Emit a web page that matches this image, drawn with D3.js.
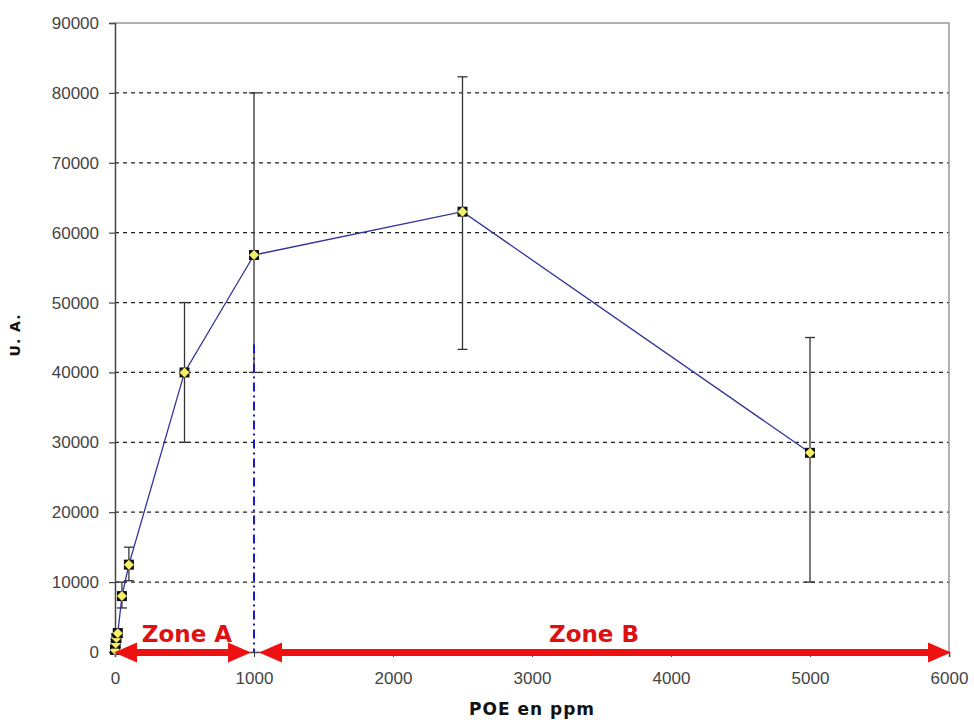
<!DOCTYPE html>
<html><head><meta charset="utf-8">
<script src="https://cdn.jsdelivr.net/npm/d3@7"></script>
<style>body{margin:0;background:#fff;}svg{display:block;font-family:"DejaVu Sans",Verdana,sans-serif;}</style>
</head><body>
<svg id="c" width="974" height="720"></svg>
<script>
const poe = [0, 5, 10, 20, 50, 100, 500, 1000, 2500, 5000];
const ua = [300, 1200, 2000, 2700, 8000, 12500, 40000, 56800, 63000, 28500];
const errLow = [0, 600, 1400, 2100, 6300, 10200, 30000, 40000, 43300, 10000];
const errHigh = [600, 1800, 2600, 3300, 10000, 15000, 50000, 80000, 82300, 45000];
const yTicks = [0, 10000, 20000, 30000, 40000, 50000, 60000, 70000, 80000, 90000];
const xTicks = [0, 1000, 2000, 3000, 4000, 5000, 6000];
const zones = [{label: "Zone A", from: 0, to: 1000}, {label: "Zone B", from: 1000, to: 6000}];
const threshold = {x: 1000, top: 44000};

const svg = d3.select("#c");
const x = d3.scaleLinear().domain([0, 6000]).range([115, 949]);
const y = d3.scaleLinear().domain([0, 90000]).range([652, 23]);

// grid
svg.append("g").selectAll("line").data(yTicks.filter(v => v > 0 && v < 90000)).join("line")
  .attr("x1", x(0)).attr("x2", x(6000)).attr("y1", d => y(d)).attr("y2", d => y(d))
  .attr("stroke", "#222").attr("stroke-width", 1.2).attr("stroke-dasharray", "4,4");
// top and right border
svg.append("path").attr("d", `M${x(0)},${y(90000)}H${x(6000)}V${y(0)}`)
  .attr("fill", "none").attr("stroke", "#999").attr("stroke-width", 1.5);

// y axis
const ya = svg.append("g").attr("transform", `translate(${x(0)},0)`)
  .call(d3.axisLeft(y).tickValues(yTicks).tickSize(6).tickPadding(10).tickFormat(d3.format("d")));
ya.select(".domain").attr("stroke", "#444").attr("stroke-width", 1.5);
ya.selectAll(".tick line").attr("stroke", "#444").attr("stroke-width", 1.2);
ya.selectAll("text").attr("font-size", 17).attr("fill", "#444");

// x axis
const xa = svg.append("g").attr("transform", `translate(0,${y(0)})`)
  .call(d3.axisBottom(x).tickValues(xTicks).tickSize(5).tickPadding(15).tickFormat(d3.format("d")));
xa.select(".domain").attr("stroke", "#444").attr("stroke-width", 1.5);
xa.selectAll(".tick line").attr("stroke", "#444");
xa.selectAll("text").attr("font-size", 17).attr("fill", "#444");

// error bars
const eb = svg.append("g").attr("stroke", "#333").attr("stroke-width", 1.3);
poe.forEach((p, i) => {
  eb.append("line").attr("x1", x(p)).attr("x2", x(p)).attr("y1", y(errLow[i])).attr("y2", y(errHigh[i]));
  [errLow[i], errHigh[i]].forEach(v => eb.append("line")
    .attr("x1", x(p) - 5).attr("x2", x(p) + 5).attr("y1", y(v)).attr("y2", y(v)));
});

// threshold dash-dot line
svg.append("line").attr("x1", x(threshold.x)).attr("x2", x(threshold.x))
  .attr("y1", y(threshold.top)).attr("y2", y(0))
  .attr("stroke", "#1a1acc").attr("stroke-width", 2).attr("stroke-dasharray", "9,4,2,4");

// line
const pts = poe.map((p, i) => [p, ua[i]]);
svg.append("path").datum(pts)
  .attr("d", d3.line().x(d => x(d[0])).y(d => y(d[1])))
  .attr("fill", "none").attr("stroke", "#33339a").attr("stroke-width", 1.3);

// markers
const mk = svg.append("g").selectAll("g").data(pts).join("g")
  .attr("transform", d => `translate(${x(d[0])},${y(d[1])})`);
mk.append("rect").attr("x", -5).attr("y", -5).attr("width", 10).attr("height", 10).attr("fill", "#111");
mk.append("path").attr("d", "M0,-5L5,0L0,5L-5,0Z").attr("fill", "#f2ee6a");

// zone arrows
const zg = svg.append("g");
zones.forEach((z, i) => {
  const x1 = x(z.from) + (i === 0 ? -1 : 5), x2 = x(z.to) - (i === 0 ? 3 : -2);
  const yy = y(0) + 0.5, L = 23, H = 10, t = 3.5;
  zg.append("path").attr("d",
    `M${x1},${yy}L${x1 + L},${yy - H}L${x1 + L},${yy - t}L${x2 - L},${yy - t}L${x2 - L},${yy - H}L${x2},${yy}` +
    `L${x2 - L},${yy + H}L${x2 - L},${yy + t}L${x1 + L},${yy + t}L${x1 + L},${yy + H}Z`)
    .attr("fill", "#ee1111");
  zg.append("text").attr("x", i === 0 ? 187 : 594).attr("y", 642)
    .attr("text-anchor", "middle").attr("font-size", 23).attr("font-weight", "bold")
    .attr("fill", "#dd1111").text(z.label);
});

// axis titles
svg.append("text").attr("x", 532).attr("y", 715).attr("text-anchor", "middle")
  .attr("font-size", 17).attr("font-weight", "bold").attr("letter-spacing", 1).attr("fill", "#111").text("POE en ppm");
svg.append("text").attr("transform", "translate(20,335) rotate(-90)").attr("text-anchor", "middle")
  .attr("font-size", 14).attr("font-weight", "bold").attr("letter-spacing", 1).attr("fill", "#111").text("U. A.");
</script>
</body></html>
